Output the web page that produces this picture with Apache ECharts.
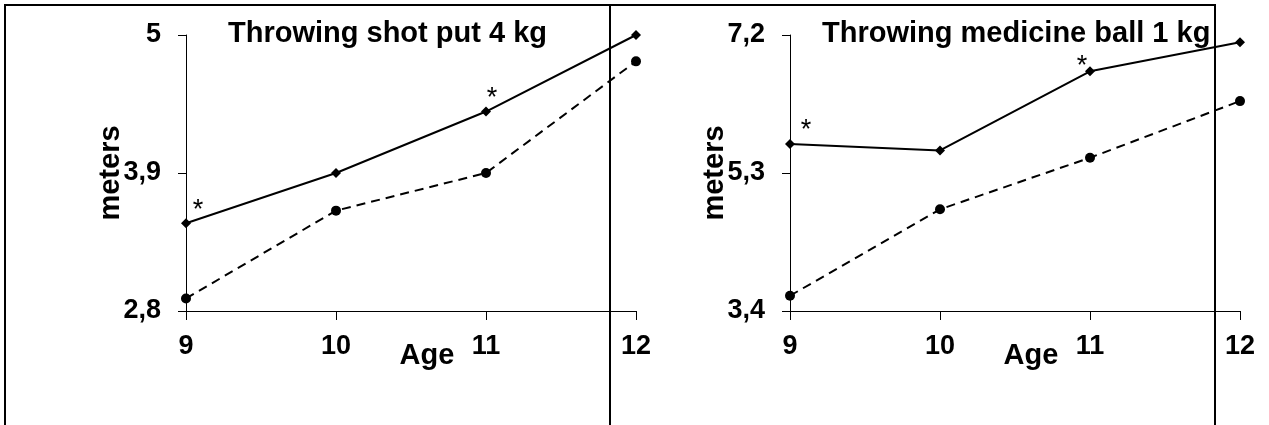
<!DOCTYPE html>
<html>
<head>
<meta charset="utf-8">
<script src="https://cdn.jsdelivr.net/npm/echarts@6/dist/echarts.min.js"></script>
<style>
html,body{margin:0;padding:0;background:#fff;}
#c{width:1269px;height:425px;}
</style>
</head>
<body>
<div id="c"></div>
<script>
// ---- data ----
const ages = ['9', '10', '11', '12'];
const shotSolid = [3.50, 3.90, 4.39, 5.00];
const shotDashed = [2.90, 3.60, 3.90, 4.79];
const shotSignificant = [true, false, true, false];
const shotTicks = [2.8, 3.9, 5];
const ballSolid = [5.70, 5.61, 6.70, 7.10];
const ballDashed = [3.61, 4.80, 5.51, 6.29];
const ballSignificant = [true, false, true, false];
const ballTicks = [3.4, 5.3, 7.2];
const titles = ['Throwing shot put 4 kg', 'Throwing medicine ball 1 kg'];
const xName = 'Age';
const yName = 'meters';

// ---- styling ----
const FONT = '"Liberation Sans", Arial, sans-serif';
const starOffsets = [[[12, -13], null, [6, -13], null], [[16, -13], null, [-8, -5], null]];

function fmt(v) { return String(Math.round(v * 10) / 10).replace('.', ','); }

function solidData(vals, sig, offs) {
  return vals.map((v, i) => sig[i] ? {
    value: v,
    label: { show: true, formatter: '*', position: 'inside', offset: offs[i],
      color: '#000', fontSize: 27, fontFamily: FONT, fontWeight: 'normal' }
  } : v);
}

const grids = [
  { left: 186, top: 35, width: 450, height: 276 },
  { left: 790, top: 35, width: 450, height: 276 }
];

function xAxis(gi) {
  return {
    type: 'category', data: ages, gridIndex: gi, boundaryGap: false,
    axisLine: { lineStyle: { color: '#000', width: 1 } },
    axisTick: { show: true, length: 9, lineStyle: { color: '#000' } },
    axisLabel: { color: '#000', fontSize: 27, fontWeight: 'bold', fontFamily: FONT, margin: 22 },
    name: xName, nameLocation: 'middle', nameGap: 30, nameMoveOverlap: false,
    nameTextStyle: { color: '#000', fontSize: 29, fontWeight: 'bold', fontFamily: FONT, padding: [0, 0, 0, 32] },
    splitLine: { show: false }
  };
}
function yAxis(gi, ticks) {
  return {
    type: 'value', gridIndex: gi, min: ticks[0], max: ticks[2],
    interval: Math.round((ticks[1] - ticks[0]) * 10) / 10,
    axisLine: { show: true, lineStyle: { color: '#000', width: 1 } },
    axisTick: { show: true, length: 8, lineStyle: { color: '#000' } },
    axisLabel: { color: '#000', fontSize: 27, fontWeight: 'bold', fontFamily: FONT, margin: 25, formatter: fmt },
    splitLine: { show: false },
    name: yName, nameLocation: 'middle', nameGap: 61, nameRotate: 90, nameMoveOverlap: false,
    nameTextStyle: { color: '#000', fontSize: 29, fontWeight: 'bold', fontFamily: FONT }
  };
}
function solidSeries(gi, vals, sig, offs) {
  return {
    type: 'line', xAxisIndex: gi, yAxisIndex: gi, data: solidData(vals, sig, offs),
    symbol: 'diamond', symbolSize: 10, showSymbol: true,
    lineStyle: { color: '#000', width: 2 }, itemStyle: { color: '#000' },
    z: 3, animation: false
  };
}
function dashedSeries(gi, vals) {
  return {
    type: 'line', xAxisIndex: gi, yAxisIndex: gi, data: vals,
    symbol: 'circle', symbolSize: 10,
    lineStyle: { color: '#000', width: 2, type: [9, 6] }, itemStyle: { color: '#000' },
    z: 2, animation: false
  };
}

const chart = echarts.init(document.getElementById('c'), null, { renderer: 'canvas' });
chart.setOption({
  backgroundColor: '#fff',
  animation: false,
  title: [
    { text: titles[0], left: 228, top: 19, textStyle: { color: '#000', fontSize: 29, fontWeight: 'bold', fontFamily: FONT }, padding: 0 },
    { text: titles[1], left: 822, top: 19, textStyle: { color: '#000', fontSize: 29, fontWeight: 'bold', fontFamily: FONT }, padding: 0 }
  ],
  grid: grids,
  xAxis: [xAxis(0), xAxis(1)],
  yAxis: [yAxis(0, shotTicks), yAxis(1, ballTicks)],
  series: [
    solidSeries(0, shotSolid, shotSignificant, starOffsets[0]),
    dashedSeries(0, shotDashed),
    solidSeries(1, ballSolid, ballSignificant, starOffsets[1]),
    dashedSeries(1, ballDashed)
  ],
  graphic: [
    { type: 'polyline', z: 100, shape: { points: [[5, 430], [5, 5], [1215, 5], [1215, 430]] },
      style: { stroke: '#000', lineWidth: 2, fill: null } },
    { type: 'line', z: 100, shape: { x1: 610, y1: 5, x2: 610, y2: 430 },
      style: { stroke: '#000', lineWidth: 2 } }
  ]
});
</script>
</body>
</html>
